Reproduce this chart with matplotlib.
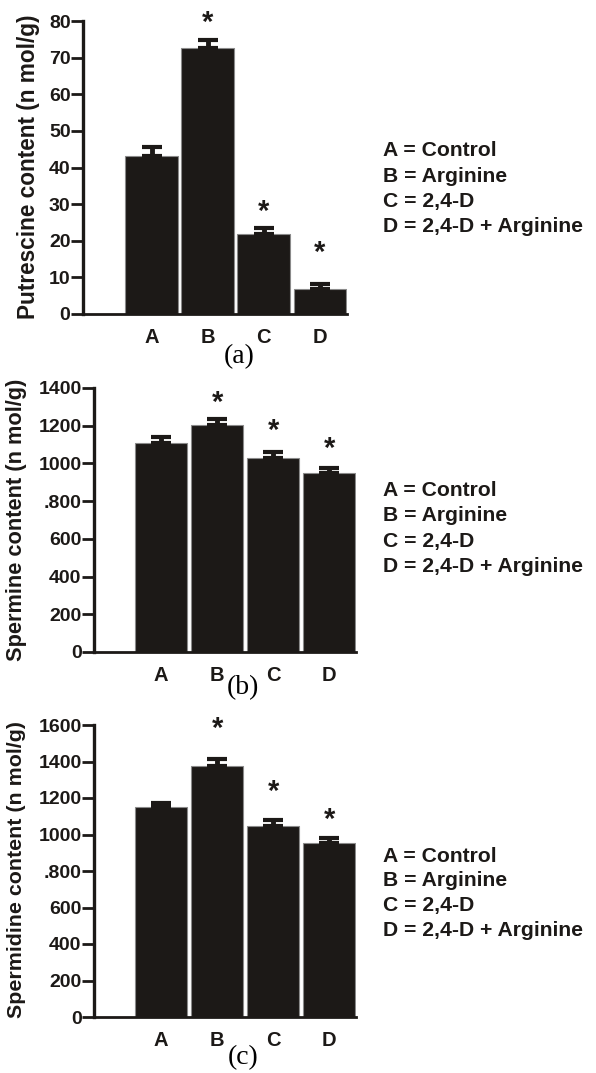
import matplotlib
matplotlib.use('Agg')
import matplotlib.pyplot as plt

plt.rcParams['font.family'] = ['Liberation Sans', 'DejaVu Sans']
plt.rcParams['font.weight'] = 'bold'

groups = ['A', 'B', 'C', 'D']
legend_lines = ['A = Control', 'B = Arginine', 'C = 2,4-D', 'D = 2,4-D + Arginine']

putrescine = [43.2, 72.5, 21.8, 6.7]
putrescine_err = [2.5, 2.4, 1.7, 1.5]
spermine = [1110, 1204, 1027, 951]
spermine_err = [32, 32, 36, 27]
spermidine = [1148, 1378, 1049, 953]
spermidine_err = [26, 35, 32, 28]
significant = [False, True, True, True]

yticks_a = [0, 10, 20, 30, 40, 50, 60, 70, 80]
yticklabels_a = ['0', '10', '20', '30', '40', '50', '60', '70', '80']
yticks_b = [0, 200, 400, 600, 800, 1000, 1200, 1400]
yticklabels_b = ['0', '200', '400', '600', '.800', '1000', '1200', '1400']
yticks_c = [0, 200, 400, 600, 800, 1000, 1200, 1400, 1600]
yticklabels_c = ['0', '200', '400', '600', '.800', '1000', '1200', '1400', '1600']

BAR = '#1c1917'
W, H = 596, 1073

fig = plt.figure(figsize=(W / 100, H / 100), dpi=100)


def panel(rect, vals, errs, yticks, ylabels, ylabel, ylab_pos, ylab_size, tag, tagpos,
          star_off, xlim, legend_y):
    ax = fig.add_axes(rect)
    x = list(range(len(vals)))
    ax.bar(x, vals, width=0.94, color=BAR, edgecolor='#8a8a8a', linewidth=0.8, zorder=2)
    ax.errorbar(x, vals, yerr=[[0] * len(errs), errs], fmt='none', ecolor=BAR,
                elinewidth=3.5, capsize=7, capthick=3, zorder=3)
    for i, (v, e, s) in enumerate(zip(vals, errs, significant)):
        if s:
            ax.annotate('*', (i, v + e), xytext=(0, star_off[i]), textcoords='offset points',
                        ha='center', va='center', fontsize=21, fontweight='bold', color=BAR)
    ax.set_xlim(*xlim)
    ax.set_ylim(0, yticks[-1])
    ax.set_yticks(yticks)
    ax.set_yticklabels(ylabels)
    ax.set_xticks(x)
    ax.set_xticklabels(groups)
    ax.tick_params(axis='y', length=8.5, width=2, pad=0.5, labelsize=14, colors=BAR)
    ax.tick_params(axis='x', length=0, pad=10, labelsize=14.5, colors=BAR)
    for t in ax.get_xticklabels() + ax.get_yticklabels():
        t.set_fontweight('bold')
    ax.spines['top'].set_visible(False)
    ax.spines['right'].set_visible(False)
    ax.spines['left'].set_linewidth(2.4)
    ax.spines['bottom'].set_linewidth(2)
    ax.spines['left'].set_color(BAR)
    ax.spines['bottom'].set_color(BAR)
    fig.text(ylab_pos[0] / W, 1 - ylab_pos[1] / H, ylabel, rotation=90, ha='center', va='center',
             fontsize=ylab_size, fontweight='bold', color=BAR)
    fig.text(tagpos[0] / W, 1 - tagpos[1] / H, tag, ha='center', va='center',
             fontsize=20, family='Liberation Serif', fontweight='normal', color='black')
    for k, line in enumerate(legend_lines):
        fig.text(383 / W, 1 - (legend_y + 25 * k) / H, line, ha='left', va='center',
                 fontsize=15.2, fontweight='bold', color=BAR)
    return ax


# star offsets are in points above the error bar tops
panel([83 / W, 1 - 314 / H, 264 / W, 293 / H], putrescine, putrescine_err,
      yticks_a, yticklabels_a, 'Putrescine content (n mol/g)', (29, 167), 16.3, '(a)', (239, 357),
      [0, 12, 11.5, 22], (-1.22, 3.48), 151)
panel([94 / W, 1 - 652 / H, 262 / W, 264 / H], spermine, spermine_err,
      yticks_b, yticklabels_b, 'Spermine content (n mol/g)', (17, 520), 15.7, '(b)', (243, 688),
      [0, 11.5, 14.5, 13.5], (-1.2, 3.48), 491)
panel([94 / W, 1 - 1017 / H, 262 / W, 292 / H], spermidine, spermidine_err,
      yticks_c, yticklabels_c, 'Spermidine content (n mol/g)', (17, 869), 15.4, '(c)', (243, 1058),
      [0, 22, 20, 13], (-1.2, 3.48), 856)

fig.savefig('out.png', dpi=100, facecolor='white')
